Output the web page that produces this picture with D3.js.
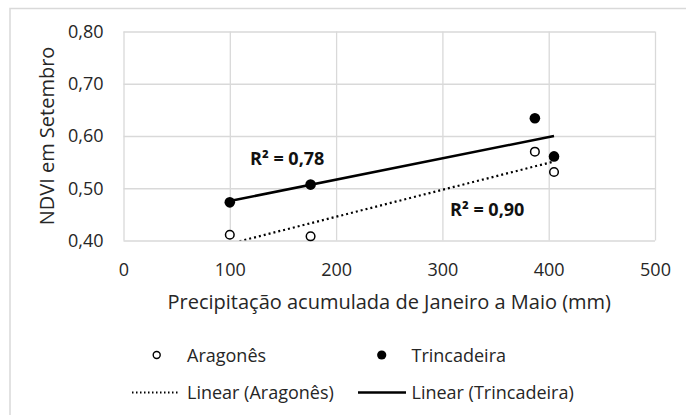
<!DOCTYPE html>
<html>
<head>
<meta charset="utf-8">
<script src="https://cdn.jsdelivr.net/npm/d3@7"></script>
<style>
  body { margin: 0; background: #fff; }
  svg { display: block; font-family: "Open Sans", sans-serif; }
</style>
</head>
<body>
<div id="chart"></div>
<script>
// Data
const precip = [100, 176, 387, 405];
const aragones = [0.411, 0.408, 0.570, 0.531];
const trincadeira = [0.473, 0.507, 0.634, 0.561];
const xTicks = [0, 100, 200, 300, 400, 500];
const yTicks = [0.40, 0.50, 0.60, 0.70, 0.80];
const r2Labels = ['R² = 0,90', 'R² = 0,78'];
const seriesNames = ['Aragonês', 'Trincadeira'];

const W = 686, H = 415;
const plotL = 123.5, plotR = 655, plotT = 31.5, plotB = 240.5;
const textCol = '#262626';

const svg = d3.select('#chart').append('svg')
  .attr('width', W).attr('height', H);

// outer chart border
svg.append('rect')
  .attr('x', 10).attr('y', 8.5)
  .attr('width', 800).attr('height', 500)
  .attr('fill', 'none').attr('stroke', '#d9d9d9').attr('stroke-width', 1.5);

const x = d3.scaleLinear().domain([0, 500]).range([plotL, plotR]);
const y = d3.scaleLinear().domain([0.4, 0.8]).range([plotB, plotT]);

const comma = d3.formatLocale({ decimal: ',', thousands: '.', grouping: [3], currency: ['', ''] });
const fmtY = comma.format('.2f');

// grid lines
svg.append('g')
  .attr('transform', `translate(0,${plotB})`)
  .call(d3.axisBottom(x).tickValues(xTicks).tickSize(-(plotB - plotT)).tickFormat(''))
  .call(g => g.select('.domain').remove())
  .call(g => g.selectAll('line').attr('stroke', '#d9d9d9').attr('stroke-width', 1.3));

svg.append('g')
  .attr('transform', `translate(${plotL},0)`)
  .call(d3.axisLeft(y).tickValues(yTicks).tickSize(-(plotR - plotL)).tickFormat(''))
  .call(g => g.select('.domain').remove())
  .call(g => g.selectAll('line').attr('stroke', '#d9d9d9').attr('stroke-width', 1.3));

// tick labels
svg.append('g')
  .attr('transform', `translate(0,${plotB})`)
  .call(d3.axisBottom(x).tickValues(xTicks).tickSize(0).tickPadding(23).tickFormat(d3.format('d')))
  .call(g => g.select('.domain').remove())
  .call(g => g.selectAll('text').attr('font-size', 18).attr('fill', textCol)
    .attr('font-family', '"Open Sans", sans-serif'));

svg.append('g')
  .attr('transform', `translate(${plotL},0)`)
  .call(d3.axisLeft(y).tickValues(yTicks).tickSize(0).tickPadding(20).tickFormat(fmtY))
  .call(g => g.select('.domain').remove())
  .call(g => g.selectAll('text').attr('font-size', 18).attr('fill', textCol)
    .attr('font-family', '"Open Sans", sans-serif'));

// axis titles
svg.append('text')
  .attr('x', (plotL + plotR) / 2).attr('y', 309)
  .attr('text-anchor', 'middle')
  .attr('font-size', 20).attr('fill', textCol)
  .text('Precipitação acumulada de Janeiro a Maio (mm)');

svg.append('text')
  .attr('transform', `translate(54,${(plotT + plotB) / 2}) rotate(-90)`)
  .attr('text-anchor', 'middle')
  .attr('font-size', 20).attr('fill', textCol)
  .text('NDVI em Setembro');

// clip for trend lines
svg.append('clipPath').attr('id', 'plot-clip')
  .append('rect')
  .attr('x', plotL).attr('y', plotT)
  .attr('width', plotR - plotL).attr('height', plotB - plotT);

function linearFit(xs, ys) {
  const mx = d3.mean(xs), my = d3.mean(ys);
  let sxy = 0, sxx = 0;
  xs.forEach((v, i) => { sxy += (v - mx) * (ys[i] - my); sxx += (v - mx) * (v - mx); });
  const slope = sxy / sxx;
  return v => my + slope * (v - mx);
}

const line = d3.line().x(d => x(d[0])).y(d => y(d[1]));
const xExtent = d3.extent(precip);

const fitA = linearFit(precip, aragones);
const fitT = linearFit(precip, trincadeira);

svg.append('path')
  .datum(xExtent.map(v => [v, fitA(v)]))
  .attr('clip-path', 'url(#plot-clip)')
  .attr('d', line)
  .attr('fill', 'none').attr('stroke', '#000')
  .attr('stroke-width', 2.2).attr('stroke-dasharray', '2,3');

svg.append('path')
  .datum(xExtent.map(v => [v, fitT(v)]))
  .attr('d', line)
  .attr('fill', 'none').attr('stroke', '#000')
  .attr('stroke-width', 2.5);

// points
svg.append('g').selectAll('circle')
  .data(precip.map((v, i) => [v, aragones[i]]))
  .join('circle')
  .attr('cx', d => x(d[0])).attr('cy', d => y(d[1]))
  .attr('r', 4.3)
  .attr('fill', '#fff').attr('stroke', '#000').attr('stroke-width', 1.5);

svg.append('g').selectAll('circle')
  .data(precip.map((v, i) => [v, trincadeira[i]]))
  .join('circle')
  .attr('cx', d => x(d[0])).attr('cy', d => y(d[1]))
  .attr('r', 5.3)
  .attr('fill', '#000');

// R² labels
svg.append('text')
  .attr('x', 450).attr('y', 215.5)
  .attr('font-size', 18).attr('font-weight', 'bold').attr('fill', '#111')
  .text(r2Labels[0]);

svg.append('text')
  .attr('x', 250).attr('y', 164.5)
  .attr('font-size', 18).attr('font-weight', 'bold').attr('fill', '#111')
  .text(r2Labels[1]);

// legend
const legend = svg.append('g').attr('font-size', 18).attr('fill', textCol);

legend.append('circle').attr('cx', 156.7).attr('cy', 355).attr('r', 3.5)
  .attr('fill', '#fff').attr('stroke', '#000').attr('stroke-width', 1.4);
legend.append('text').attr('x', 187).attr('y', 361.5).text(seriesNames[0]);

legend.append('circle').attr('cx', 381.7).attr('cy', 355).attr('r', 4.6).attr('fill', '#000');
legend.append('text').attr('x', 411.5).attr('y', 361.5).text(seriesNames[1]);

legend.append('line').attr('x1', 132).attr('x2', 178).attr('y1', 392.5).attr('y2', 392.5)
  .attr('stroke', '#000').attr('stroke-width', 2).attr('stroke-dasharray', '1.5,2.5');
legend.append('text').attr('x', 187).attr('y', 399).text(`Linear (${seriesNames[0]})`);

legend.append('line').attr('x1', 358).attr('x2', 406).attr('y1', 392.5).attr('y2', 392.5)
  .attr('stroke', '#000').attr('stroke-width', 2.5);
legend.append('text').attr('x', 411.5).attr('y', 399).text(`Linear (${seriesNames[1]})`);
</script>
</body>
</html>
